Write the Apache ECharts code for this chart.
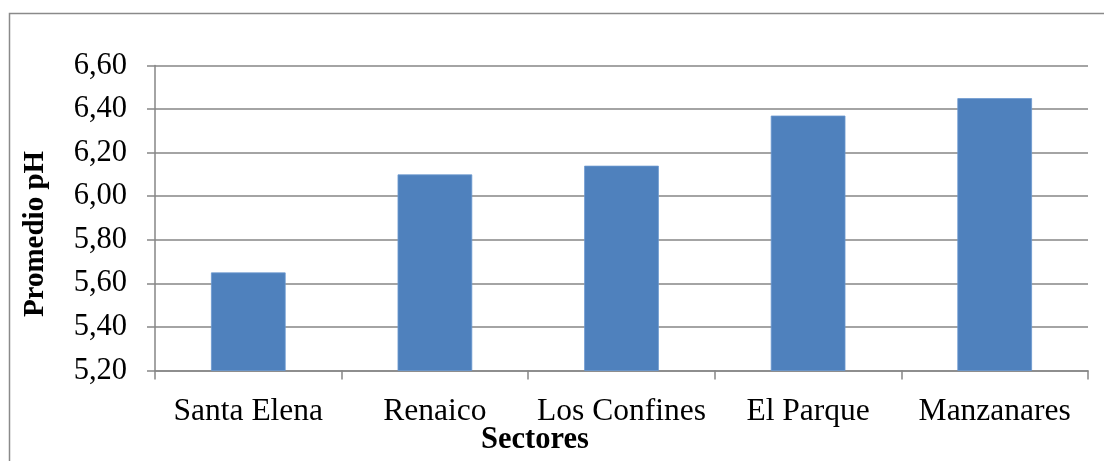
<!DOCTYPE html>
<html>
<head>
<meta charset="utf-8">
<script src="https://cdn.jsdelivr.net/npm/echarts@6/dist/echarts.min.js"></script>
<style>
html,body{margin:0;padding:0;background:#fff;}
#chart{width:1104px;height:461px;}
</style>
</head>
<body>
<div id="chart"></div>
<script>
var categories = ['Santa Elena', 'Renaico', 'Los Confines', 'El Parque', 'Manzanares'];
var phValues = [5.65, 6.10, 6.14, 6.37, 6.45];
var yMin = 5.2, yMax = 6.6, yStep = 0.2;
var xAxisTitle = 'Sectores';
var yAxisTitle = 'Promedio pH';

var chart = echarts.init(document.getElementById('chart'), null, {renderer: 'canvas'});
var font = '"Liberation Serif", "Times New Roman", serif';
var axisGray = '#868686';

chart.setOption({
  animation: false,
  backgroundColor: '#ffffff',
  grid: {left: 155, right: 16, top: 65.5, bottom: 90.5, containLabel: false},
  xAxis: {
    type: 'category',
    data: categories,
    axisLine: {show: true, lineStyle: {color: axisGray, width: 1.5}},
    axisTick: {show: true, length: 9, alignWithLabel: false, lineStyle: {color: axisGray, width: 1.5}},
    axisLabel: {margin: 25, color: '#000', fontFamily: font, fontSize: 31.5, interval: 0},
    splitLine: {show: false}
  },
  yAxis: {
    type: 'value',
    min: yMin, max: yMax, interval: yStep,
    axisLine: {show: true, lineStyle: {color: axisGray, width: 1.5}},
    axisTick: {show: true, length: 8, lineStyle: {color: axisGray, width: 1.5}},
    axisLabel: {
      margin: 28, color: '#000', fontFamily: font, fontSize: 30.5,
      formatter: function (v) { return v.toFixed(2).replace('.', ','); }
    },
    splitLine: {show: true, lineStyle: {color: axisGray, width: 1.5}}
  },
  series: [{
    type: 'bar',
    data: phValues,
    barWidth: '40%',
    itemStyle: {color: '#4F81BD', borderColor: '#6b98cf', borderWidth: 0.8}
  }],
  graphic: [
    {type: 'rect', shape: {x: 9.5, y: 13.5, width: 1200, height: 600},
     style: {fill: 'none', stroke: '#8a8a8a', lineWidth: 1.5}, silent: true},
    {type: 'text', x: 535, y: 440, style: {text: xAxisTitle, font: 'bold 30.5px ' + font, fill: '#000',
      textAlign: 'center', textVerticalAlign: 'middle'}},
    {type: 'text', x: 36, y: 234, rotation: Math.PI / 2, style: {text: yAxisTitle, font: 'bold 29px ' + font, fill: '#000',
      textAlign: 'center', textVerticalAlign: 'middle'}}
  ]
});
</script>
</body>
</html>
